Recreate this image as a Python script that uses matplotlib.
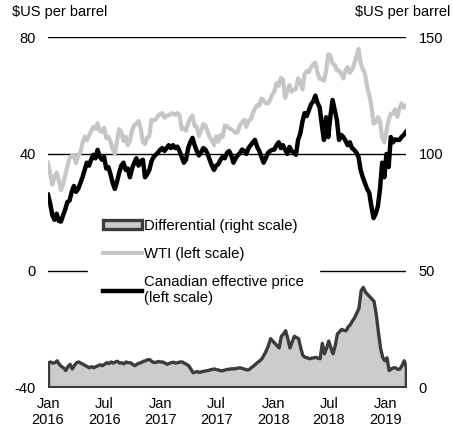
import numpy as np
import pandas as pd
import matplotlib
matplotlib.use("Agg")
from matplotlib import pyplot as plt
from matplotlib.patches import Patch
from matplotlib.lines import Line2D

plt.rcParams['font.family'] = ['Liberation Sans', 'DejaVu Sans']
plt.rcParams['axes.unicode_minus'] = False

# weekly observations starting Friday 1 Jan 2016
weeks = pd.date_range("2016-01-01", periods=167, freq="7D")

# WTI, $US per barrel (left scale)
wti = [
    37.0, 33.2, 29.4, 32.2, 33.6, 30.9, 27.5, 29.6, 32.8, 35.9,
    38.5, 39.4, 39.5, 36.8, 39.7, 40.4, 43.7, 45.9, 44.7, 46.2,
    47.8, 49.3, 48.6, 50.5, 47.9, 47.6, 49.0, 45.4, 45.9, 44.2,
    41.6, 40.0, 44.5, 48.5, 47.6, 44.4, 45.9, 43.0, 44.5, 48.2,
    49.8, 50.4, 51.3, 48.7, 44.1, 43.4, 45.7, 46.1, 51.7, 51.5,
    51.9, 53.0, 53.7,
    54.0, 52.4, 53.2, 53.2, 53.8, 53.9, 53.4, 54.0, 53.3, 48.5,
    48.8, 48.0, 50.6, 52.2, 53.2, 49.6, 49.3, 46.2, 47.8, 50.3,
    49.8, 47.7, 45.8, 44.7, 43.0, 46.0, 44.2, 46.5, 45.8, 49.7,
    49.6, 48.8, 48.5, 47.9, 47.3, 47.5, 49.9, 50.7, 51.7, 49.3,
    51.5, 51.8, 53.9, 55.6, 56.7, 56.6, 59.0, 58.4, 57.4, 57.3,
    58.5, 60.4,
    61.4, 64.3, 63.4, 66.1, 65.5, 59.2, 61.7, 63.6, 61.3, 62.0,
    62.3, 65.9, 64.9, 62.1, 67.4, 68.4, 68.1, 69.7, 70.7, 71.3,
    67.9, 65.8, 65.7, 65.1, 68.6, 74.2, 73.8, 71.0, 70.5, 68.7,
    68.5, 67.6, 65.9, 68.7, 69.8, 67.8, 69.0, 70.8, 73.3, 76.0,
    71.3, 69.1, 67.6, 63.1, 60.2, 56.5, 50.4, 50.9, 52.6, 51.2,
    45.6, 44.0,
    48.0, 51.6, 53.8, 53.7, 55.3, 52.7, 55.6, 57.3, 55.8, 56.5,
]

# Canadian effective price, $US per barrel (left scale)
canada = [
    26.0, 23.0, 19.0, 17.4, 19.5, 17.0, 16.8, 19.0, 21.0, 23.5,
    24.0, 27.0, 29.0, 27.0, 28.0, 30.0, 32.0, 34.5, 37.0, 36.0,
    38.0, 39.7, 38.5, 41.4, 39.0, 38.0, 39.0, 35.0, 35.5, 33.0,
    30.0, 28.0, 30.5, 33.5, 36.0, 37.0, 34.5, 35.0, 32.0, 35.0,
    37.0, 38.5, 36.0, 37.5, 38.0, 32.0, 33.0, 34.5, 37.5, 39.0,
    39.7, 40.5, 41.4,
    42.0, 41.0, 42.0, 43.0, 42.0, 43.0, 42.0, 42.5, 41.0, 39.0,
    37.0, 38.0, 42.0, 44.0, 45.5, 43.0, 41.0, 39.5, 40.5, 42.0,
    41.5, 40.0, 38.0, 36.0, 34.5, 36.0, 36.5, 38.0, 39.0, 38.5,
    40.3, 41.0, 39.5, 37.0, 38.5, 39.5, 40.3, 41.5, 41.0, 40.0,
    42.0, 43.0, 44.0, 44.8, 42.4, 41.0, 39.0, 37.0, 38.5, 40.3,
    41.0, 41.4,
    41.5, 43.0, 44.0, 42.0, 43.0, 41.4, 40.0, 42.4, 41.0, 40.5,
    39.7, 44.8, 47.0, 51.0, 54.0, 53.0, 55.0, 57.0, 58.0, 60.0,
    57.5, 56.0, 50.0, 44.8, 52.6, 45.8, 53.0, 58.5, 55.0, 51.6,
    44.8, 46.5, 45.8, 44.5, 43.0, 44.0, 42.0, 41.4, 40.5, 39.0,
    34.5, 32.0, 30.0, 28.0, 26.7, 22.0, 18.0, 19.5, 22.0, 28.0,
    37.0, 32.0,
    40.0, 35.5, 45.8, 44.0, 45.0, 44.8, 44.8, 45.8, 46.5, 47.5,
]

# differential, $US per barrel (right scale)
spread = [
    10.7, 11.0, 10.5, 10.7, 11.5, 10.0, 9.0, 8.5, 7.3, 9.0,
    10.0, 8.0, 9.5, 10.7, 11.0, 10.5, 10.0, 9.5, 9.0, 8.5,
    9.0, 8.5, 9.0, 9.4, 9.8, 9.4, 10.0, 10.7, 10.3, 11.0,
    10.5, 11.0, 11.3, 10.5, 10.7, 10.2, 11.0, 10.7, 10.7, 10.0,
    9.4, 10.0, 10.5, 10.7, 11.3, 11.5, 12.0, 12.0, 11.2, 10.7,
    10.9, 11.2, 11.0,
    11.0, 10.5, 10.0, 10.4, 10.7, 10.9, 10.5, 10.7, 11.0, 11.0,
    10.5, 10.0, 9.4, 8.0, 6.4, 6.6, 6.9, 6.5, 6.8, 7.0,
    7.2, 7.3, 7.6, 7.8, 8.0, 7.7, 7.5, 7.2, 7.3, 7.6,
    7.8, 7.9, 8.1, 8.0, 8.2, 8.4, 8.5, 8.2, 7.9, 7.6,
    7.7, 8.5, 9.2, 10.0, 10.8, 11.5, 12.4, 14.0, 15.8, 18.0,
    21.0, 20.0,
    19.0, 18.0, 17.0, 22.0, 23.0, 24.4, 21.0, 17.0, 19.5, 22.0,
    21.5, 21.0, 17.0, 13.7, 13.0, 12.8, 12.4, 12.6, 12.8, 13.0,
    12.6, 12.4, 19.0, 14.5, 17.0, 20.0, 17.0, 14.5, 18.0, 23.0,
    24.0, 25.0, 24.5, 24.4, 26.0, 27.0, 28.6, 30.0, 32.0, 34.0,
    41.5, 43.0, 41.0, 40.0, 39.0, 38.0, 37.0, 31.6, 24.0, 17.0,
    13.0, 11.5,
    12.8, 7.3, 8.0, 8.5, 8.5, 7.8, 8.0, 9.5, 11.5, 8.5,
]

tick_dates = pd.to_datetime(["2016-01-01", "2016-07-01", "2017-01-01", "2017-07-01",
                             "2018-01-01", "2018-07-01", "2019-01-01"])
tick_labels = ["Jan\n2016", "Jul\n2016", "Jan\n2017", "Jul\n2017",
               "Jan\n2018", "Jul\n2018", "Jan\n2019"]

fig = plt.figure(figsize=(4.53, 4.34), dpi=100)
ax = fig.add_axes([0.106, 0.108, 0.79, 0.806])
ax2 = ax.twinx()

for y in [0, 40, 80]:
    ax.axhline(y, color="black", lw=1.0, zorder=1)

ax.plot(weeks, wti, color="#c6c6c6", lw=3.0, solid_joinstyle="round", zorder=2)
ax.plot(weeks, canada, color="black", lw=3.2, solid_joinstyle="round", zorder=3)

ax2.fill_between(weeks, 0, spread, facecolor="#cccccc", edgecolor="#3c3c3c",
                 lw=2.4, joinstyle="round")

ax.set_ylim(-40, 80)
ax2.set_ylim(0, 150)
ax.set_xlim(weeks[0], weeks[-1])
ax.set_yticks([-40, 0, 40, 80])
ax2.set_yticks([0, 50, 100, 150])
ax.set_xticks(tick_dates)
ax.set_xticklabels(tick_labels)

for a in (ax, ax2):
    for s in a.spines.values():
        s.set_visible(False)
    a.tick_params(length=0, labelsize=10.5, colors="black")
ax.tick_params(axis="y", pad=9)
ax2.tick_params(axis="y", pad=9)
ax.tick_params(axis="x", pad=7)

handles = [
    Patch(facecolor="#cccccc", edgecolor="#3c3c3c", lw=2.4),
    Line2D([], [], color="#c6c6c6", lw=3.0),
    Line2D([], [], color="black", lw=3.2),
]
labels = ["Differential (right scale)", "WTI (left scale)",
          "Canadian effective price\n(left scale)"]
leg = ax2.legend(handles, labels, loc="upper left", bbox_to_anchor=(0.112, 0.524),
                 frameon=True, fancybox=False, edgecolor="white", facecolor="white",
                 framealpha=1.0, fontsize=10.7, handlelength=2.6, handleheight=0.5,
                 handletextpad=0.15, labelspacing=0.95, borderpad=1.0,
                 borderaxespad=0.0)
leg.set_zorder(10)

fig.text(0.027, 0.988, "\\$US per barrel", fontsize=10.5, ha="left", va="top")
fig.text(0.995, 0.988, "\\$US per barrel", fontsize=10.5, ha="right", va="top")

fig.savefig("out.png", dpi=100)
